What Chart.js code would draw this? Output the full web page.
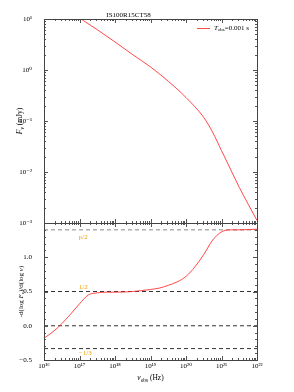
<!DOCTYPE html>
<html>
<head>
<meta charset="utf-8">
<script src="https://cdn.jsdelivr.net/npm/chart.js@4.4.0/dist/chart.umd.min.js"></script>
<style>
html, body { margin: 0; padding: 0; background: #fff; }
#wrap { position: relative; width: 294px; height: 392px; }
canvas { position: absolute; left: 0; top: 0; }
</style>
</head>
<body>
<div id="wrap">
  <canvas id="topChart" width="294" height="392"></canvas>
  <canvas id="botChart" width="294" height="392"></canvas>
</div>
<script>
const FONT = '"Liberation Serif", "DejaVu Serif", serif';
const chartTitle = 'IS100R15CT58';

// 上段: log10(nu) と log10(F_nu)
const fluxLogNu = [17.0, 17.5, 18.0, 18.5, 19.0, 19.5, 20.0, 20.5, 20.75, 21.0, 21.25, 21.5, 21.75, 22.0];
const fluxLogF  = [1.02, 0.79, 0.55, 0.30, 0.06, -0.22, -0.54, -0.93, -1.22, -1.58, -1.94, -2.30, -2.63, -2.95];

// 下段: スペクトル勾配 -dlogF/dlognu
const slopeLogNu = [16.0, 16.25, 16.5, 16.75, 17.0, 17.25, 17.5, 17.75, 18.0, 18.5, 19.0, 19.25, 19.5, 19.75, 20.0, 20.25, 20.5, 20.75, 21.0, 21.25, 21.5, 22.0];
const slopeValues = [-0.18, -0.09, 0.03, 0.17, 0.32, 0.45, 0.48, 0.49, 0.49, 0.50, 0.53, 0.55, 0.59, 0.64, 0.72, 0.86, 1.04, 1.25, 1.37, 1.40, 1.40, 1.41];

// 参照レベル
const refLevels = [1.4, 0.5, 0, -1 / 3];
const refLabels = ['p/2', '1/2', '', '\u22121/3'];
const refColors = ['#888888', '#333333', '#333333', '#333333'];

// 目盛り
const xTickExp = [16, 17, 18, 19, 20, 21, 22];
const topTickExp = [1, 0, -1, -2, -3];
const botTicks = [-0.5, 0, 0.5, 1.0];

const X_MIN = 1e16, X_MAX = 1e22;
const SUP = { '0': '⁰', '1': '¹', '2': '²', '3': '³', '4': '⁴', '5': '⁵', '6': '⁶', '7': '⁷', '8': '⁸', '9': '⁹', '-': '⁻' };
const pow10Label = (v) => '10' + String(Math.round(Math.log10(v))).split('').map(c => SUP[c]).join('');

// 添字付きテキストを描く
function drawRich(ctx, parts, x, y, size, align) {
    ctx.save();
    ctx.textBaseline = 'middle';
    ctx.fillStyle = '#000';
    const fontFor = p => (p.it ? 'italic ' : '') + (p.sub ? Math.round(size * 7) / 10 : size) + 'px ' + FONT;
    let w = 0;
    parts.forEach(p => { ctx.font = fontFor(p); p.w = ctx.measureText(p.t).width; w += p.w; });
    let cx = align === 'center' ? x - w / 2 : x;
    ctx.textAlign = 'left';
    parts.forEach(p => {
        ctx.font = fontFor(p);
        ctx.fillText(p.t, cx, y + (p.sub ? size * 0.3 : 0));
        cx += p.w;
    });
    ctx.restore();
}

// 枠と内向きの目盛り
function drawFrame(chart, yMinor) {
    const ctx = chart.ctx;
    const a = chart.chartArea;
    const xs = chart.scales.x, ys = chart.scales.y;
    ctx.save();
    ctx.strokeStyle = '#555';
    ctx.lineWidth = 1;
    ctx.beginPath();
    for (let e = 16; e <= 22; e++) {
        for (let m = 1; m <= 9; m++) {
            const v = m * Math.pow(10, e);
            if (v > X_MAX * 1.0001) break;
            const px = Math.round(xs.getPixelForValue(v)) + 0.5;
            const len = m === 1 ? 4 : 2;
            ctx.moveTo(px, a.bottom); ctx.lineTo(px, a.bottom - len);
            ctx.moveTo(px, a.top); ctx.lineTo(px, a.top + len);
        }
    }
    yMinor.forEach(t => {
        const py = Math.round(ys.getPixelForValue(t.v)) + 0.5;
        const len = t.major ? 4 : 2;
        ctx.moveTo(a.left, py); ctx.lineTo(a.left + len, py);
        ctx.moveTo(a.right, py); ctx.lineTo(a.right - len, py);
    });
    ctx.stroke();
    ctx.strokeStyle = '#444';
    ctx.strokeRect(Math.round(a.left) + 0.5, Math.round(a.top) + 0.5, Math.round(a.right - a.left), Math.round(a.bottom - a.top));
    ctx.restore();
}

const topMinor = [];
for (let e = -3; e <= 0; e++) {
    for (let m = 1; m <= 9; m++) topMinor.push({ v: m * Math.pow(10, e), major: m === 1 });
}
topMinor.push({ v: 10, major: true });

const botMinor = [];
for (let i = -5; i <= 15; i++) botMinor.push({ v: i / 10, major: i % 5 === 0 });

const topDecor = {
    id: 'topDecor',
    afterDraw(chart) {
        drawFrame(chart, topMinor);
        const ctx = chart.ctx;
        // 凡例
        ctx.save();
        ctx.strokeStyle = 'rgba(255,40,40,0.85)';
        ctx.lineWidth = 1;
        ctx.beginPath();
        ctx.moveTo(197, 28.5); ctx.lineTo(210, 28.5);
        ctx.stroke();
        ctx.restore();
        drawRich(ctx, [{ t: 'T', it: true }, { t: 'obs', sub: true }, { t: '=0.001 s' }], 214, 28, 7, 'left');
        // 縦軸ラベル
        ctx.save();
        ctx.translate(20, 121);
        ctx.rotate(-Math.PI / 2);
        drawRich(ctx, [{ t: 'F', it: true }, { t: 'ν', sub: true, it: true }, { t: ' (mJy)' }], 0, 0, 7.5, 'center');
        ctx.restore();
    }
};

const botDecor = {
    id: 'botDecor',
    afterDraw(chart) {
        drawFrame(chart, botMinor);
        const ctx = chart.ctx;
        const xs = chart.scales.x, ys = chart.scales.y;
        // 参照線のラベル
        const offsets = [7, -4.5, 0, 4.5];
        ctx.save();
        ctx.fillStyle = '#f5a000';
        ctx.font = '7px ' + FONT;
        ctx.textAlign = 'left';
        ctx.textBaseline = 'middle';
        refLabels.forEach((lab, i) => {
            if (!lab) return;
            ctx.fillText(lab, xs.getPixelForValue(Math.pow(10, 16.98)), ys.getPixelForValue(refLevels[i]) + offsets[i]);
        });
        ctx.restore();
        // 軸ラベル
        const a = chart.chartArea;
        drawRich(ctx, [{ t: 'ν', it: true }, { t: 'obs', sub: true }, { t: ' (Hz)' }], (a.left + a.right) / 2, 378, 7.5, 'center');
        ctx.save();
        ctx.translate(21, (a.top + a.bottom) / 2);
        ctx.rotate(-Math.PI / 2);
        drawRich(ctx, [{ t: '-d(log ' }, { t: 'F', it: true }, { t: 'ν', sub: true, it: true }, { t: ')/d(log ' }, { t: 'ν', it: true }, { t: ')' }], 0, 0, 7, 'center');
        ctx.restore();
    }
};

const tickFont = { family: FONT, size: 7, lineHeight: 1 };

new Chart(document.getElementById('topChart'), {
    type: 'line',
    data: {
        datasets: [{
            label: 'Tobs=0.001 s',
            data: fluxLogNu.map((v, i) => ({ x: Math.pow(10, v), y: Math.pow(10, fluxLogF[i]) })),
            borderColor: 'rgba(255,40,40,0.85)',
            borderWidth: 1,
            pointRadius: 0,
            cubicInterpolationMode: 'monotone',
            fill: false
        }]
    },
    options: {
        responsive: false,
        animation: false,
        devicePixelRatio: 1,
        layout: { padding: { left: 0, right: 37, top: 0, bottom: 392 - 223 } },
        plugins: {
            legend: { display: false },
            tooltip: { enabled: false },
            title: {
                display: true,
                text: chartTitle,
                color: '#000',
                font: { family: FONT, size: 7, weight: 'normal', lineHeight: 1 },
                padding: { top: 12, bottom: 0 }
            }
        },
        scales: {
            x: { type: 'logarithmic', min: X_MIN, max: X_MAX, display: false },
            y: {
                type: 'logarithmic',
                min: 1e-3,
                max: 10,
                afterFit: (s) => { s.width = 44; },
                afterBuildTicks: (s) => { s.ticks = topTickExp.map(e => ({ value: Math.pow(10, e) })); },
                ticks: { callback: (v) => pow10Label(v), font: tickFont, color: '#000', padding: 4 },
                grid: { display: false },
                border: { display: false }
            }
        }
    },
    plugins: [topDecor]
});

const botDatasets = [{
    label: 'slope',
    data: slopeLogNu.map((v, i) => ({ x: Math.pow(10, v), y: slopeValues[i] })),
    borderColor: 'rgba(255,40,40,0.85)',
    borderWidth: 1,
    pointRadius: 0,
    cubicInterpolationMode: 'monotone',
    fill: false
}];
refLevels.forEach((lv, i) => {
    botDatasets.push({
        label: 'ref' + i,
        data: [{ x: X_MIN, y: lv }, { x: X_MAX, y: lv }],
        borderColor: refColors[i],
        borderWidth: 1,
        borderDash: [4, 3],
        pointRadius: 0,
        fill: false
    });
});

new Chart(document.getElementById('botChart'), {
    type: 'line',
    data: { datasets: botDatasets },
    options: {
        responsive: false,
        animation: false,
        devicePixelRatio: 1,
        layout: { padding: { left: 0, right: 37, top: 223, bottom: 0 } },
        plugins: { legend: { display: false }, tooltip: { enabled: false } },
        scales: {
            x: {
                type: 'logarithmic',
                min: X_MIN,
                max: X_MAX,
                afterFit: (s) => { s.height = 32; },
                afterBuildTicks: (s) => { s.ticks = xTickExp.map(e => ({ value: Math.pow(10, e) })); },
                ticks: { callback: (v) => pow10Label(v), font: tickFont, color: '#000', padding: -5, maxRotation: 0, autoSkip: false },
                grid: { display: false },
                border: { display: false }
            },
            y: {
                type: 'linear',
                min: -0.5,
                max: 1.5,
                afterFit: (s) => { s.width = 44; },
                afterBuildTicks: (s) => { s.ticks = botTicks.map(v => ({ value: v })); },
                ticks: { callback: (v) => (v < 0 ? '\u2212' : '') + Math.abs(v).toFixed(1), font: tickFont, color: '#000', padding: 4 },
                grid: { display: false },
                border: { display: false }
            }
        }
    },
    plugins: [botDecor]
});
</script>
</body>
</html>
